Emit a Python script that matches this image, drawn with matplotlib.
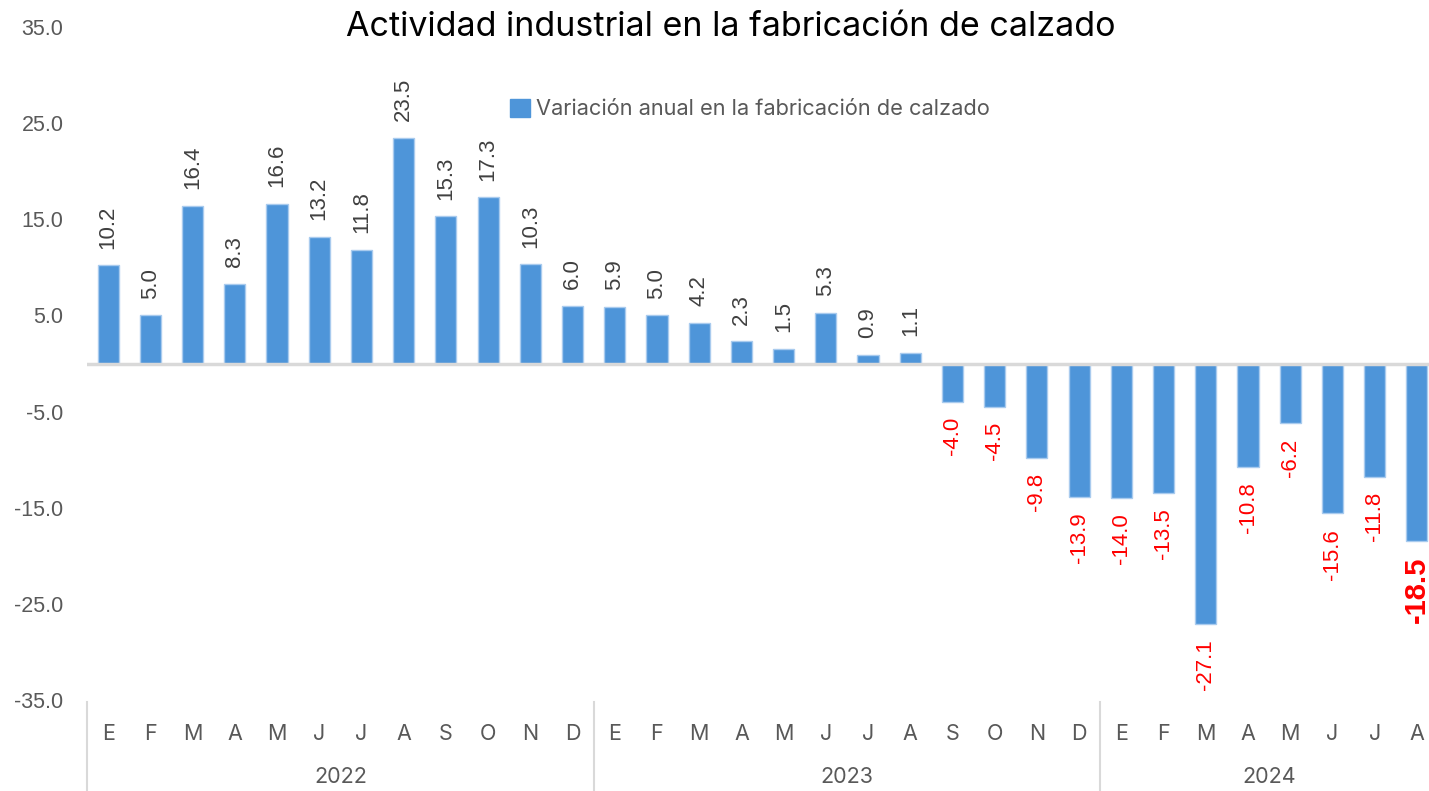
import matplotlib.pyplot as plt
from matplotlib.patches import Patch

MONTHS = ["E", "F", "M", "A", "M", "J", "J", "A", "S", "O", "N", "D"]
YEARS = ["2022", "2023", "2024"]
MONTH_LABELS = MONTHS * 2 + MONTHS[:8]
VALUES_2022 = [10.2, 5.0, 16.4, 8.3, 16.6, 13.2, 11.8, 23.5, 15.3, 17.3, 10.3, 6.0]
VALUES_2023 = [5.9, 5.0, 4.2, 2.3, 1.5, 5.3, 0.9, 1.1, -4.0, -4.5, -9.8, -13.9]
VALUES_2024 = [-14.0, -13.5, -27.1, -10.8, -6.2, -15.6, -11.8, -18.5]
YEAR_SIZES = [len(VALUES_2022), len(VALUES_2023), len(VALUES_2024)]
Y_TICKS = [-35, -25, -15, -5, 5, 15, 25, 35]

BAR_COLOR = "#4E95D9"
EDGE_COLOR = "#A9CBEE"
GRAY = "#595959"
SANS = ["Liberation Sans", "DejaVu Sans"]
APTOS_LIKE = ["Inter", "DejaVu Sans"]

values = VALUES_2022 + VALUES_2023 + VALUES_2024
x = list(range(len(values)))

W, H = 1429, 791
fig = plt.figure(figsize=(W / 100, H / 100), dpi=100)
ax = fig.add_axes([87 / W, 1 - 700 / H, (1438 - 87) / W, (700 - 27) / H])

ax.bar(x, values, width=0.5, color=BAR_COLOR, edgecolor=EDGE_COLOR, linewidth=1.0, zorder=2)
ax.axhline(0, color="#D9D9D9", linewidth=2.5, zorder=3)

ax.set_xlim(-0.5, len(values) - 0.5)
ax.set_ylim(-35, 35)
ax.set_yticks(Y_TICKS)
ax.set_yticklabels([f"{v:.1f}" for v in Y_TICKS], family=SANS, fontsize=15.5, color=GRAY)
ax.set_xticks(x)
ax.set_xticklabels(MONTH_LABELS, family=APTOS_LIKE, fontsize=15.5, color=GRAY)
ax.tick_params(axis="y", length=0, pad=17)
ax.tick_params(axis="x", length=0, pad=17)
for side in ("top", "right", "bottom", "left"):
    ax.spines[side].set_visible(False)

# data labels
for i, v in enumerate(values):
    last = i == len(values) - 1
    if v >= 0:
        ax.annotate(f"{v:.1f}", (i, v), xytext=(0, 12), textcoords="offset points",
                    rotation=90, ha="center", va="bottom", fontsize=16,
                    family=SANS, color="#404040")
    else:
        ax.annotate(f"{v:.1f}", (i, v), xytext=(0, -11), textcoords="offset points",
                    rotation=90, ha="center", va="top",
                    fontsize=21 if last else 16,
                    fontweight="bold" if last else "normal",
                    family=SANS, color="#FF0000")

# year groups and separators
trans = ax.get_xaxis_transform()
start = 0
for year, n in zip(YEARS, YEAR_SIZES):
    ax.text(start + (n - 1) / 2, -0.1144, year, transform=trans, ha="center", va="center",
            fontsize=15.5, family=APTOS_LIKE, color=GRAY)
    ax.plot([start - 0.5, start - 0.5], [-0.003, -0.14], transform=trans,
            color="#D9D9D9", linewidth=1.5, clip_on=False)
    start += n

fig.text(731 / W, 1 - 27 / H, "Actividad industrial en la fabricación de calzado",
         ha="center", va="center", fontsize=24.5, family=APTOS_LIKE, color="black")

fig.legend(handles=[Patch(facecolor=BAR_COLOR, edgecolor=BAR_COLOR,
                          label="Variación anual en la fabricación de calzado")],
           loc="center", bbox_to_anchor=(750 / W, 1 - 109 / H), frameon=False,
           prop={"family": APTOS_LIKE, "size": 15.7}, labelcolor=GRAY,
           handlelength=0.9, handleheight=0.9, handletextpad=0.3)

fig.savefig("out.png", dpi=100)
